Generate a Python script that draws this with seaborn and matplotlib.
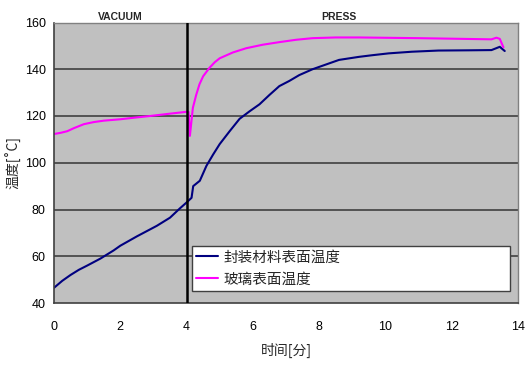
import matplotlib
matplotlib.use("Agg")
import matplotlib.pyplot as plt
import matplotlib.transforms as mtransforms
import seaborn as sns
import pandas as pd

# ---- data ----
t_seal = [0, 0.25, 0.5, 0.75, 1.0, 1.4, 1.8, 2.0, 2.5, 3.1, 3.5, 3.8, 4.0, 4.15, 4.2,
          4.4, 4.6, 4.8, 5.0, 5.3, 5.6, 5.9, 6.2, 6.5, 6.8, 7.1, 7.4, 7.8, 8.2, 8.6,
          9.2, 9.6, 10.1, 10.8, 11.6, 12.5, 13.2, 13.45, 13.6]
T_seal = [46.5, 49.5, 52, 54.2, 56, 59, 62.5, 64.5, 68.5, 73, 76.5, 80.5, 83, 85, 90,
          92.3, 98.7, 103.5, 108, 113.5, 118.8, 122, 125, 129, 132.8, 135, 137.5, 140,
          142, 144, 145.3, 146, 146.8, 147.5, 148, 148.1, 148.2, 149.6, 147.8]
t_glass = [0, 0.2, 0.4, 0.6, 0.9, 1.2, 1.5, 2.0, 2.5, 2.9, 3.5, 4.0, 4.06, 4.1, 4.19,
           4.29, 4.39, 4.5, 4.69, 4.85, 5.0, 5.4, 5.8, 6.3, 6.8, 7.3, 7.8, 8.5, 9.2,
           11, 13.2, 13.35, 13.45, 13.56]
T_glass = [112.3, 112.8, 113.5, 114.8, 116.5, 117.4, 118, 118.6, 119.4, 120, 121,
           121.8, 121.8, 111.5, 123.5, 129, 133.6, 137, 140.6, 143, 144.7, 147.2, 149,
           150.5, 151.6, 152.6, 153.3, 153.6, 153.6, 153.3, 152.8, 153.5, 153, 149.4]
series_names = ["封装材料表面温度", "玻璃表面温度"]
phase_labels = ["VACUUM", "PRESS"]
phase_pos = [2.0, 8.6]
switch_time = 4.0
x_ticks = [0, 2, 4, 6, 8, 10, 12, 14]
y_ticks = [40, 60, 80, 100, 120, 140, 160]
x_label = "时间[分]"
y_label = "温度[˚C]"

df = pd.concat([
    pd.DataFrame({"t": t_seal, "T": T_seal, "s": series_names[0]}),
    pd.DataFrame({"t": t_glass, "T": T_glass, "s": series_names[1]}),
], ignore_index=True)

sns.set_style("white")
plt.rcParams["font.family"] = ["Noto Sans CJK SC", "DejaVu Sans"]

fig = plt.figure(figsize=(5.32, 3.66), dpi=100)
ax = fig.add_axes([54/532, 1 - 303/366, 464/532, (303 - 22.5)/366])
ax.set_facecolor("#c0c0c0")

sns.lineplot(data=df, x="t", y="T", hue="s", estimator=None, sort=False,
             palette=["#000080", "#ff00ff"], linewidth=1.5, ax=ax)

ax.set_xlim(0, 14)
ax.set_ylim(40, 160)
ax.set_xticks(x_ticks)
ax.set_yticks(y_ticks)
ax.set_xticklabels([str(v) for v in x_ticks], family=["Liberation Sans"], fontsize=9)
ax.set_yticklabels([str(v) for v in y_ticks], family=["Liberation Sans"], fontsize=9)
ax.tick_params(axis="x", direction="in", length=3, pad=13, colors="#000000")
ax.tick_params(axis="y", direction="in", length=3, pad=6, colors="#000000")

for y in y_ticks[1:-1]:
    ax.axhline(y, color="#404040", lw=1.2, zorder=1)
ax.axvline(switch_time, color="black", lw=1.8, zorder=3)

for side in ["left", "bottom"]:
    ax.spines[side].set_color("#404040")
    ax.spines[side].set_linewidth(1.2)
for side in ["top", "right"]:
    ax.spines[side].set_color("#808080")
    ax.spines[side].set_linewidth(1.0)

ax.set_xlabel(x_label, fontsize=10, labelpad=7)
ax.set_ylabel(y_label, fontsize=10, labelpad=2)

trans = mtransforms.blended_transform_factory(ax.transData, ax.transAxes)
for lbl, pos in zip(phase_labels, phase_pos):
    ax.text(pos, 1.003, lbl, transform=trans, ha="center", va="bottom",
            fontsize=7.5, fontweight="bold", family=["Liberation Sans"])

leg = ax.legend(loc="lower left", bbox_to_anchor=(0.297, 0.043, 0.685, 0.164),
                mode="expand", borderaxespad=0, frameon=True, fancybox=False,
                fontsize=10.5, handlelength=1.5, handletextpad=0.4,
                labelspacing=0.55, borderpad=0.3)
leg.get_frame().set_edgecolor("#404040")
leg.get_frame().set_linewidth(1.0)
leg.get_frame().set_facecolor("white")
leg.get_frame().set_alpha(1)

fig.savefig("out.png", dpi=100)
